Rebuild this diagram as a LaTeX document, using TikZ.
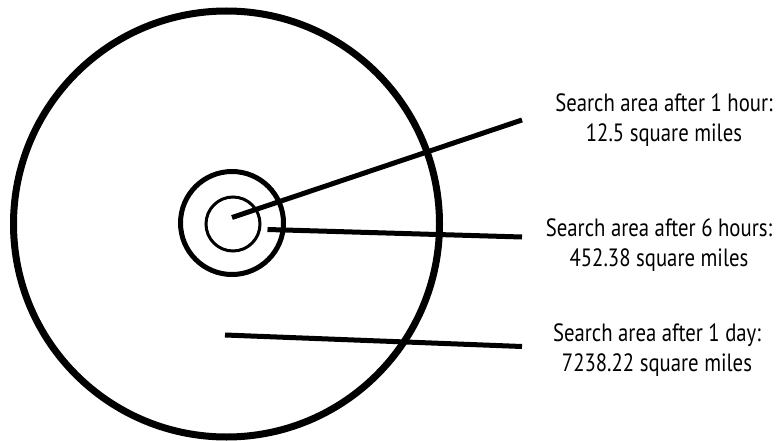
\documentclass[tikz,border=0pt]{standalone}
\usepackage{fontspec}
\setmainfont{PT Sans}[FakeStretch=0.83]
\usepackage{tikz}
\usetikzlibrary{positioning}
\tikzset{
  bigring/.style={draw, line width=7pt},
  midring/.style={draw, line width=5pt},
  smallring/.style={draw, line width=3pt},
  leader/.style={draw, line width=5pt},
  caption/.style={align=center, inner sep=0pt, font=\fontsize{25}{30}\selectfont}
}
\begin{document}
\begin{tikzpicture}[x=1pt,y=-1pt]
  \useasboundingbox (0,0) rectangle (778,441);

  \draw[bigring] (226.5,224) circle (213);
  \draw[midring] (232,223) circle (51.5);
  \draw[smallring] (233,224) circle (27);

  \coordinate (hour) at (232,217.5);
  \coordinate (sixhours) at (267.5,229.5);
  \coordinate (day) at (225,335);

  \coordinate (hourend) at (522,120);
  \coordinate (sixhoursend) at (522,237);
  \coordinate (dayend) at (522,346.5);

  \node[caption] (hourlbl) at (664,120.5) {Search area after 1 hour:\\12.5 square miles};
  \node[caption] (sixhourslbl) at (659,245.5) {Search area after 6 hours:\\452.38 square miles};
  \node[caption] (daylbl) at (657,350.5) {Search area after 1 day:\\7238.22 square miles};

  \draw[leader] (hour) -- (hourend);
  \draw[leader] (sixhours) -- (sixhoursend);
  \draw[leader] (day) -- (dayend);
\end{tikzpicture}
\end{document}
